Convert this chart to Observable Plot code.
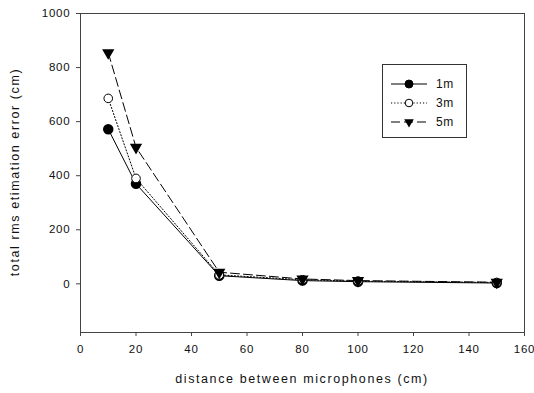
<!DOCTYPE html>
<html><head><meta charset="utf-8">
<script src="https://cdn.jsdelivr.net/npm/d3@7"></script>
<script src="https://cdn.jsdelivr.net/npm/@observablehq/plot@0.6"></script>
<style>
body{margin:0;background:#fff;}
svg{font-family:"Liberation Sans",Arial,sans-serif;}
</style>
</head><body><div id="chart"></div>
<script>
const distances = [10, 20, 50, 80, 100, 150];
const series = ["1m", "3m", "5m"];
const err1m = [572, 370, 30, 12, 8, 3];
const err3m = [686, 390, 33, 15, 10, 5];
const err5m = [855, 505, 43, 18, 12, 6];
const xTicks = [0, 20, 40, 60, 80, 100, 120, 140, 160];
const yTicks = [0, 200, 400, 600, 800, 1000];

const values = {"1m": err1m, "3m": err3m, "5m": err5m};
const data = series.flatMap(s => distances.map((d, i) => ({s, x: d, y: values[s][i]})));
const dash = {"1m": null, "3m": "1.2,2", "5m": "9,4"};

const marks = [
  Plot.frame({stroke: "#444", strokeWidth: 1}),
  Plot.axisX({ticks: xTicks, tickFormat: d => String(d), tickSize: 4, tickPadding: 8, fontSize: 11.5, label: null, stroke: "#444"}),
  Plot.axisY({ticks: yTicks, tickFormat: d => String(d), tickSize: 4, tickPadding: 6, fontSize: 11.5, label: null, stroke: "#444"}),
];
for (const s of series) {
  const d = data.filter(r => r.s === s);
  marks.push(Plot.line(d, {x: "x", y: "y", stroke: "black", strokeWidth: 1, strokeDasharray: dash[s]}));
}
marks.push(Plot.dot(data.filter(r => r.s === "1m"), {x: "x", y: "y", r: 4.5, fill: "black", stroke: "black"}));
marks.push(Plot.dot(data.filter(r => r.s === "3m"), {x: "x", y: "y", r: 4.3, fill: "white", stroke: "black", strokeWidth: 1}));
marks.push(Plot.dot(data.filter(r => r.s === "5m"), {x: "x", y: "y", r: 3.6, symbol: "triangle", rotate: 180, fill: "black", stroke: "black"}));

const plot = Plot.plot({
  width: 534, height: 393,
  marginLeft: 80, marginRight: 10, marginTop: 13, marginBottom: 61,
  x: {domain: [0, 160]},
  y: {domain: [-180, 1000]},
  style: {fontFamily: "Liberation Sans, Arial, sans-serif", color: "#111", background: "white"},
  marks
});

const svg = d3.select(plot);
svg.selectAll("text").style("letter-spacing", "0.8px");
svg.append("text").attr("x", 302).attr("y", 383).attr("text-anchor", "middle")
  .attr("font-size", 12.5).attr("letter-spacing", "1.6px").attr("fill", "#111")
  .text("distance between microphones (cm)");
svg.append("text").attr("transform", "translate(19,172) rotate(-90)").attr("text-anchor", "middle")
  .attr("font-size", 12.5).attr("letter-spacing", "1.6px").attr("fill", "#111")
  .text("total rms etimation error (cm)");

// legend
const lg = svg.append("g");
lg.append("rect").attr("x", 382.5).attr("y", 64.5).attr("width", 84).attr("height", 73)
  .attr("fill", "white").attr("stroke", "#333");
series.forEach((s, i) => {
  const y = 84 + i * 19;
  lg.append("line").attr("x1", 391).attr("x2", 427).attr("y1", y).attr("y2", y)
    .attr("stroke", "black").attr("stroke-dasharray", dash[s]);
  if (s === "5m") {
    lg.append("path").attr("d", d3.symbol(d3.symbolTriangle, 40)()).attr("transform", `translate(409,${y}) rotate(180)`).attr("fill", "black");
  } else {
    lg.append("circle").attr("cx", 409).attr("cy", y).attr("r", s === "1m" ? 4 : 3.8)
      .attr("fill", s === "1m" ? "black" : "white").attr("stroke", "black");
  }
  lg.append("text").attr("x", 436).attr("y", y).attr("dy", "0.35em").attr("font-size", 12)
    .attr("text-anchor", "start").attr("letter-spacing", "0.5px").attr("fill", "#111").text(s);
});

document.getElementById("chart").appendChild(plot);
</script>
</body></html>
